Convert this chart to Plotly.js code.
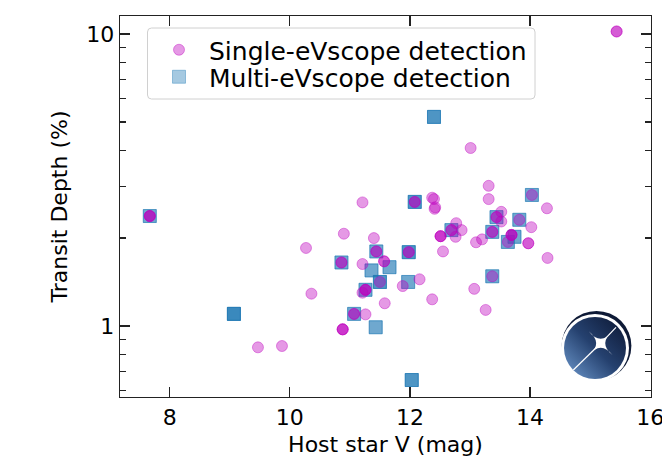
<!DOCTYPE html>
<html>
<head>
<meta charset="utf-8">
<script src="https://cdn.plot.ly/plotly-3.0.1.min.js"></script>
<style>html,body{margin:0;padding:0;background:#fff;}#chart{width:662px;height:461px;}</style>
</head>
<body>
<div id="chart"></div>
<script>
// Single-eVscope detections (host star V mag, transit depth %), repeated entries = overlapping detections
const singleV = [
  7.67, 7.67, 7.67,
  12.08, 12.08,
  10.86, 10.86,
  11.44, 11.44,
  11.98, 11.98,
  11.50,
  11.26, 11.26, 11.26,
  11.07, 11.07,
  14.03,
  12.69, 12.69,
  13.44, 13.44,
  13.82,
  13.37, 13.37,
  13.63,
  13.69, 13.69, 13.69,
  13.37,
  15.44, 15.44,
  9.47, 9.87, 10.27, 10.36, 11.21, 10.90, 11.40, 11.21,
  11.57, 11.57,
  12.37, 12.40, 12.41, 12.42,
  12.51, 12.51, 12.51,
  12.55, 12.16, 11.88, 12.37, 11.58, 11.21, 11.26,
  10.88, 10.88, 10.88,
  13.31, 13.31, 14.28, 12.77, 12.86, 12.76, 13.10, 13.20, 13.52, 13.52, 14.02,
  13.97, 13.97,
  14.29, 13.07, 13.26, 13.01
];
const singleDepth = [
  2.38, 2.38, 2.38,
  2.66, 2.66,
  1.65, 1.65,
  1.80, 1.80,
  1.79, 1.79,
  1.415,
  1.33, 1.33, 1.33,
  1.10, 1.10,
  2.81,
  2.13, 2.13,
  2.36, 2.36,
  2.31,
  2.10, 2.10,
  1.94,
  2.05, 2.05, 2.05,
  1.48,
  10.2, 10.2,
  0.845, 0.854, 1.85, 1.29, 2.65, 2.07, 2.00, 1.63,
  1.665, 1.665,
  2.75, 2.72, 2.52, 2.55,
  2.03, 2.03, 2.03,
  1.80, 1.445, 1.37, 1.234, 1.196, 1.30, 1.096,
  0.974, 0.974, 0.974,
  3.02, 2.72, 2.53, 2.25, 2.13, 2.02, 1.935, 1.98, 2.46, 2.28, 2.18,
  1.92, 1.92,
  1.71, 1.34, 1.135, 4.07
];
// Multi-eVscope detections
const multiV = [
  7.67, 7.67,
  9.07, 9.07, 9.07, 9.07,
  12.40, 12.40, 12.40,
  12.03, 12.03, 12.03,
  12.08, 12.08, 12.08,
  10.86, 10.86,
  11.44, 11.44,
  11.98, 11.98, 11.98,
  11.36, 11.36,
  11.66, 11.66,
  11.50, 11.50, 11.50,
  11.97, 11.97,
  11.26, 11.26,
  11.07, 11.07,
  11.43, 11.43,
  14.03, 14.03,
  12.69, 12.69,
  13.44, 13.44,
  13.82, 13.82,
  13.37, 13.37,
  13.63, 13.63,
  13.74, 13.74,
  13.37, 13.37
];
const multiDepth = [
  2.38, 2.38,
  1.10, 1.10, 1.10, 1.10,
  5.20, 5.20, 5.20,
  0.653, 0.653, 0.653,
  2.66, 2.66, 2.66,
  1.65, 1.65,
  1.80, 1.80,
  1.79, 1.79, 1.79,
  1.55, 1.55,
  1.59, 1.59,
  1.415, 1.415, 1.415,
  1.415, 1.415,
  1.33, 1.33,
  1.10, 1.10,
  0.99, 0.99,
  2.81, 2.81,
  2.13, 2.13,
  2.36, 2.36,
  2.31, 2.31,
  2.10, 2.10,
  1.94, 1.94,
  2.02, 2.02,
  1.48, 1.48
];
const xTicks = [8, 10, 12, 14, 16];
const yTicks = [1, 10];
const yTickText = ['1', '10'];
const yMinorTicks = [0.6, 0.7, 0.8, 0.9, 2, 3, 4, 5, 6, 7, 8, 9];

const FONT = 'DejaVu Sans, sans-serif';
const magenta = 'rgba(191,0,191,0.4)';
const blue = 'rgba(31,119,180,0.4)';

const traces = [
  {
    type: 'scatter', mode: 'markers', name: 'Multi-eVscope detection', legend: 'legend2',
    x: multiV, y: multiDepth,
    marker: {symbol: 'square', size: 13, color: blue, line: {color: blue, width: 1}}
  },
  {
    type: 'scatter', mode: 'markers', name: 'Single-eVscope detection', legend: 'legend',
    x: singleV, y: singleDepth,
    marker: {symbol: 'circle', size: 11, color: magenta, line: {color: magenta, width: 1}}
  }
];

const logoSvg =
  '<svg xmlns="http://www.w3.org/2000/svg" width="80" height="80" viewBox="0 0 80 80">' +
  '<defs><linearGradient id="g" x1="0" y1="1" x2="1" y2="0">' +
  '<stop offset="0" stop-color="#6f9bd0"/><stop offset="0.5" stop-color="#25416f"/><stop offset="1" stop-color="#0b1530"/>' +
  '</linearGradient></defs>' +
  '<circle cx="40.5" cy="41.8" r="34.9" fill="#0e1a36"/>' +
  '<circle cx="39" cy="44" r="34" fill="#ffffff"/>' +
  '<circle cx="39" cy="44" r="31" fill="url(#g)"/>' +
  '<g transform="translate(44.7,39.3)">' +
  '<path d="M -12 -12 Q 0 3 12 -12 Q -3 0 12 12 Q 0 -3 -12 12 Q 3 0 -12 -12 Z" fill="#ffffff"/>' +
  '<line x1="0" y1="0" x2="15.3" y2="-16" stroke="#ffffff" stroke-width="1.2"/>' +
  '<line x1="0" y1="0" x2="-27.4" y2="26.7" stroke="#ffffff" stroke-width="1.2"/>' +
  '</g></svg>';

// legend frame (paper coords)
const PW = 531, PH = 381;
function px2x(p) { return (p - 120) / PW; }
function px2y(p) { return (397 - p) / PH; }
const bx0 = px2x(147.5), bx1 = px2x(535), by0 = px2y(28), by1 = px2y(99);
const rx = 4 / PW, ry = 4 / PH;
const framePath =
  'M ' + (bx0 + rx) + ',' + by0 + ' L ' + (bx1 - rx) + ',' + by0 +
  ' Q ' + bx1 + ',' + by0 + ' ' + bx1 + ',' + (by0 - ry) +
  ' L ' + bx1 + ',' + (by1 + ry) +
  ' Q ' + bx1 + ',' + by1 + ' ' + (bx1 - rx) + ',' + by1 +
  ' L ' + (bx0 + rx) + ',' + by1 +
  ' Q ' + bx0 + ',' + by1 + ' ' + bx0 + ',' + (by1 + ry) +
  ' L ' + bx0 + ',' + (by0 - ry) +
  ' Q ' + bx0 + ',' + by0 + ' ' + (bx0 + rx) + ',' + by0 + ' Z';

const legendCommon = {
  xanchor: 'left', yanchor: 'middle',
  font: {family: FONT, size: 25, color: '#000000'},
  bgcolor: 'rgba(0,0,0,0)', borderwidth: 0,
  itemwidth: 50
};

const layout = {
  width: 662, height: 461,
  margin: {l: 120, r: 11, t: 16, b: 64, pad: 0},
  paper_bgcolor: '#ffffff', plot_bgcolor: '#ffffff',
  font: {family: FONT, color: '#000000', size: 22},
  showlegend: true,
  xaxis: {
    range: [7.174, 16.012], tickmode: 'array', tickvals: xTicks,
    ticks: 'inside', ticklen: 10, tickwidth: 1.3, tickcolor: '#222222',
    showline: true, linecolor: '#222222', linewidth: 1.3, mirror: 'allticks',
    showgrid: false, zeroline: false, ticklabeloverflow: 'allow',
    tickfont: {family: FONT, size: 22, color: '#000000'},
    title: {text: 'Host star V (mag)', font: {family: FONT, size: 22, color: '#000000'}, standoff: 8}
  },
  yaxis: {
    type: 'log', range: [-0.2432, 1.0616], tickmode: 'array', tickvals: yTicks, ticktext: yTickText,
    ticks: 'inside', ticklen: 10, tickwidth: 1.3, tickcolor: '#222222',
    showline: true, linecolor: '#222222', linewidth: 1.3, mirror: 'allticks',
    showgrid: false, zeroline: false,
    minor: {tickmode: 'array', tickvals: yMinorTicks, ticks: 'inside', ticklen: 6, tickwidth: 1.3, tickcolor: '#222222', showgrid: false},
    tickfont: {family: FONT, size: 22, color: '#000000'},
    title: {text: 'Transit Depth (%)', font: {family: FONT, size: 22, color: '#000000'}, standoff: 12}
  },
  legend: Object.assign({x: px2x(149), y: px2y(50)}, legendCommon),
  legend2: Object.assign({x: px2x(149), y: px2y(77)}, legendCommon),
  shapes: [{
    type: 'path', xref: 'paper', yref: 'paper', path: framePath,
    fillcolor: 'rgba(255,255,255,0.8)', line: {color: '#d0d0d0', width: 1}, layer: 'above'
  }],
  images: [{
    source: 'data:image/svg+xml;charset=utf-8,' + encodeURIComponent(logoSvg),
    xref: 'paper', yref: 'paper',
    x: (556 - 120) / PW, y: (397 - 304) / PH,
    sizex: 80 / PW, sizey: 80 / PH,
    xanchor: 'left', yanchor: 'top', sizing: 'stretch', layer: 'above'
  }]
};

Plotly.newPlot('chart', traces, layout, {displayModeBar: false, staticPlot: true});
</script>
</body>
</html>
